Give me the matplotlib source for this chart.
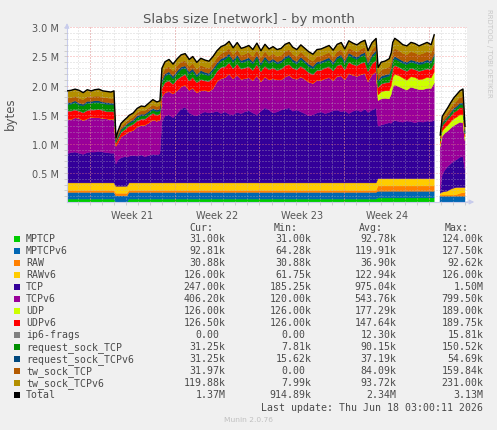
import numpy as np
import matplotlib
matplotlib.use("Agg")
import matplotlib.pyplot as plt
from matplotlib.patches import Rectangle
from matplotlib.transforms import blended_transform_factory

nan = float("nan")
W, H = 497, 431

# hours since the graph start (2026-05-16 03:00), graph spans 33 days
HOURS = [
    0, 8, 16, 24, 32, 40, 48, 55, 63, 71, 79, 87, 93,
    97, 101, 107, 115, 119, 123, 131, 139, 147, 154, 162, 170, 178, 184,
    188, 194, 202, 210, 218, 226, 234, 242, 249, 257,
    265, 273, 281, 289, 297, 305, 313, 321, 329, 337,
    345, 352, 360, 368, 376, 384, 392, 400, 408, 416,
    424, 432, 440, 447, 455, 463, 471, 479, 487, 495,
    503, 511, 519, 527, 535, 543, 550, 558, 566, 574,
    582, 590, 596, 604, 612,
    616, 622, 630, 638, 642, 645, 649, 657, 665, 673, 681, 689, 697, 705, 713, 721, 727,
    731, 735,
    739, 743, 748, 754, 760, 766, 772, 778, 784, 788,
]

# all values in millions of bytes (stacked, bottom first)
MPTCP = [
    0.05, 0.05, 0.05, 0.05, 0.05, 0.05, 0.05, 0.05, 0.05, 0.05, 0.05, 0.05, 0.05,
    0, 0, 0, 0, 0, 0.05, 0.05, 0.05, 0.05, 0.05, 0.05, 0.05, 0.05, 0.05,
    0.05, 0.05, 0.05, 0.05, 0.05, 0.05, 0.05, 0.05, 0.05, 0.05,
    0.05, 0.05, 0.05, 0.05, 0.05, 0.05, 0.05, 0.05, 0.05, 0.05,
    0.05, 0.05, 0.05, 0.05, 0.05, 0.05, 0.05, 0.05, 0.05, 0.05,
    0.05, 0.05, 0.05, 0.05, 0.05, 0.05, 0.05, 0.05, 0.05, 0.05,
    0.05, 0.05, 0.05, 0.05, 0.05, 0.05, 0.05, 0.05, 0.05, 0.05,
    0.05, 0.05, 0.05, 0.05, 0.05,
    0.07, 0.07, 0.07, 0.07, 0.07, 0.07, 0.07, 0.07, 0.07, 0.07, 0.07, 0.07, 0.07, 0.07, 0.07, 0.07, 0.07,
    nan, nan,
    0, 0, 0, 0, 0, 0, 0, 0, 0, 0,
]
MPTCPV6 = [
    0.115, 0.115, 0.115, 0.115, 0.115, 0.115, 0.115, 0.115, 0.115, 0.115, 0.115, 0.115, 0.115,
    0.105, 0.105, 0.105, 0.105, 0.105, 0.115, 0.115, 0.115, 0.115, 0.115, 0.115, 0.115, 0.115, 0.115,
    0.115, 0.115, 0.115, 0.115, 0.115, 0.115, 0.115, 0.115, 0.115, 0.115,
    0.115, 0.115, 0.115, 0.115, 0.115, 0.115, 0.115, 0.115, 0.115, 0.115,
    0.115, 0.115, 0.115, 0.115, 0.115, 0.115, 0.115, 0.115, 0.115, 0.115,
    0.115, 0.115, 0.115, 0.115, 0.115, 0.115, 0.115, 0.115, 0.115, 0.115,
    0.115, 0.115, 0.115, 0.115, 0.115, 0.115, 0.115, 0.115, 0.115, 0.115,
    0.115, 0.115, 0.115, 0.115, 0.115,
    0.115, 0.115, 0.115, 0.115, 0.115, 0.115, 0.115, 0.115, 0.115, 0.115, 0.115, 0.115, 0.115, 0.115, 0.115, 0.115, 0.115,
    nan, nan,
    0.10, 0.10, 0.10, 0.10, 0.10, 0.10, 0.10, 0.10, 0.10, 0.10,
]
RAW = [
    0.035, 0.035, 0.035, 0.035, 0.035, 0.035, 0.035, 0.035, 0.035, 0.035, 0.035, 0.035, 0.035,
    0.045, 0.045, 0.045, 0.045, 0.045, 0.035, 0.035, 0.035, 0.035, 0.035, 0.035, 0.035, 0.035, 0.035,
    0.035, 0.035, 0.035, 0.035, 0.035, 0.035, 0.035, 0.035, 0.035, 0.035,
    0.035, 0.035, 0.035, 0.035, 0.035, 0.035, 0.035, 0.035, 0.035, 0.035,
    0.035, 0.035, 0.035, 0.035, 0.035, 0.035, 0.035, 0.035, 0.035, 0.035,
    0.035, 0.035, 0.035, 0.035, 0.035, 0.035, 0.035, 0.035, 0.035, 0.035,
    0.035, 0.035, 0.035, 0.035, 0.035, 0.035, 0.035, 0.035, 0.035, 0.035,
    0.035, 0.035, 0.035, 0.035, 0.035,
    0.09, 0.09, 0.09, 0.09, 0.09, 0.09, 0.09, 0.09, 0.09, 0.09, 0.09, 0.09, 0.09, 0.09, 0.09, 0.09, 0.09,
    nan, nan,
    0.02, 0.02, 0.02, 0.02, 0.02, 0.02, 0.03, 0.05, 0.06, 0.06,
]
RAWV6 = [
    0.128, 0.128, 0.128, 0.128, 0.128, 0.128, 0.128, 0.128, 0.128, 0.128, 0.128, 0.128, 0.128,
    0.12, 0.12, 0.12, 0.12, 0.12, 0.128, 0.128, 0.128, 0.128, 0.128, 0.128, 0.128, 0.128, 0.128,
    0.128, 0.128, 0.128, 0.128, 0.128, 0.128, 0.128, 0.128, 0.128, 0.128,
    0.128, 0.128, 0.128, 0.128, 0.128, 0.128, 0.128, 0.128, 0.128, 0.128,
    0.128, 0.128, 0.128, 0.128, 0.128, 0.128, 0.128, 0.128, 0.128, 0.128,
    0.128, 0.128, 0.128, 0.128, 0.128, 0.128, 0.128, 0.128, 0.128, 0.128,
    0.128, 0.128, 0.128, 0.128, 0.128, 0.128, 0.128, 0.128, 0.128, 0.128,
    0.128, 0.128, 0.128, 0.128, 0.128,
    0.126, 0.126, 0.126, 0.126, 0.126, 0.126, 0.126, 0.126, 0.126, 0.126, 0.126, 0.126, 0.126, 0.126, 0.126, 0.126, 0.126,
    nan, nan,
    0.03, 0.05, 0.06, 0.07, 0.10, 0.12, 0.12, 0.10, 0.09, 0.09,
]
TCP = [
    0.50, 0.52, 0.53, 0.51, 0.49, 0.52, 0.53, 0.53, 0.54, 0.53, 0.52, 0.51, 0.51,
    0.38, 0.45, 0.49, 0.51, 0.50, 0.46, 0.47, 0.46, 0.48, 0.45, 0.47, 0.49, 0.48, 0.50,
    1.05, 1.15, 1.17, 1.12, 1.19, 1.27, 1.30, 1.20, 1.17, 1.15,
    1.19, 1.22, 1.20, 1.21, 1.23, 1.19, 1.22, 1.18, 1.17, 1.21,
    1.19, 1.22, 1.24, 1.20, 1.17, 1.23, 1.29, 1.25, 1.20, 1.22,
    1.25, 1.27, 1.29, 1.23, 1.25, 1.22, 1.19, 1.15, 1.17, 1.20,
    1.22, 1.19, 1.21, 1.24, 1.25, 1.22, 1.24, 1.19, 1.23, 1.25,
    1.22, 1.27, 1.21, 1.25, 1.29,
    0.90, 0.92, 0.94, 0.96, 0.95, 0.98, 1.00, 0.98, 0.97, 0.99, 0.98, 0.96, 0.98, 0.97, 0.99, 0.98, 1.00,
    nan, nan,
    0.05, 0.30, 0.37, 0.42, 0.44, 0.46, 0.48, 0.52, 0.53, 0.30,
]
TCPV6 = [
    0.60, 0.57, 0.59, 0.60, 0.58, 0.58, 0.60, 0.59, 0.58, 0.58, 0.58, 0.58, 0.59,
    0.31, 0.30, 0.36, 0.38, 0.41, 0.42, 0.43, 0.50, 0.51, 0.54, 0.56, 0.59, 0.58, 0.58,
    0.43, 0.40, 0.40, 0.41, 0.39, 0.38, 0.38, 0.39, 0.46, 0.40,
    0.39, 0.37, 0.37, 0.41, 0.51, 0.60, 0.59, 0.69, 0.62, 0.64,
    0.59, 0.57, 0.57, 0.56, 0.67, 0.51, 0.53, 0.52, 0.59, 0.55,
    0.52, 0.55, 0.56, 0.57, 0.53, 0.60, 0.59, 0.58, 0.54, 0.56,
    0.54, 0.60, 0.60, 0.52, 0.58, 0.62, 0.53, 0.69, 0.62, 0.58,
    0.64, 0.61, 0.53, 0.61, 0.62,
    0.44, 0.45, 0.44, 0.41, 0.50, 0.59, 0.61, 0.60, 0.58, 0.53, 0.59, 0.59, 0.55, 0.56, 0.56, 0.57, 0.64,
    nan, nan,
    0.75, 0.66, 0.63, 0.61, 0.61, 0.61, 0.61, 0.60, 0.58, 0.50,
]
UDP = [
    0, 0, 0, 0, 0, 0, 0, 0, 0, 0, 0, 0, 0,
    0, 0, 0, 0, 0, 0, 0, 0, 0, 0, 0, 0, 0, 0,
    0, 0, 0, 0, 0, 0, 0, 0, 0, 0,
    0, 0, 0, 0, 0, 0, 0, 0, 0, 0,
    0, 0, 0, 0, 0, 0, 0, 0, 0, 0,
    0, 0, 0, 0, 0, 0, 0, 0, 0, 0,
    0, 0, 0, 0, 0, 0, 0, 0, 0, 0,
    0, 0, 0, 0, 0,
    0.10, 0.12, 0.13, 0.14, 0.15, 0.17, 0.18, 0.19, 0.18, 0.17, 0.18, 0.19, 0.17, 0.18, 0.19, 0.18, 0.19,
    nan, nan,
    0.05, 0.09, 0.09, 0.10, 0.11, 0.12, 0.12, 0.13, 0.14, 0.07,
]
UDPV6 = [
    0.13, 0.14, 0.13, 0.12, 0.13, 0.14, 0.12, 0.13, 0.14, 0.13, 0.12, 0.13, 0.12,
    0.05, 0.06, 0.07, 0.08, 0.09, 0.09, 0.10, 0.10, 0.10, 0.10, 0.11, 0.11, 0.10, 0.10,
    0.15, 0.17, 0.18, 0.16, 0.19, 0.17, 0.18, 0.16, 0.18, 0.17,
    0.19, 0.16, 0.17, 0.18, 0.17, 0.19, 0.18, 0.19, 0.17, 0.19,
    0.17, 0.18, 0.18, 0.17, 0.19, 0.17, 0.18, 0.17, 0.18, 0.16,
    0.18, 0.19, 0.18, 0.17, 0.16, 0.18, 0.17, 0.16, 0.15, 0.17,
    0.17, 0.18, 0.18, 0.16, 0.18, 0.19, 0.17, 0.19, 0.18, 0.18,
    0.19, 0.19, 0.17, 0.18, 0.19,
    0.12, 0.13, 0.13, 0.14, 0.14, 0.15, 0.15, 0.14, 0.14, 0.15, 0.14, 0.13, 0.14, 0.15, 0.14, 0.14, 0.15,
    nan, nan,
    0.05, 0.09, 0.09, 0.10, 0.10, 0.11, 0.11, 0.12, 0.12, 0.05,
]
IP6_FRAGS = [
    0.01, 0.01, 0.01, 0.01, 0.01, 0.01, 0.01, 0.01, 0.01, 0.01, 0.01, 0.01, 0.01,
    0.01, 0.01, 0.01, 0.01, 0.01, 0.01, 0.01, 0.01, 0.01, 0.01, 0.01, 0.01, 0.01, 0.01,
    0.01, 0.01, 0.01, 0.01, 0.01, 0.01, 0.01, 0.01, 0.01, 0.01,
    0.01, 0.01, 0.01, 0.01, 0.01, 0.01, 0.01, 0.01, 0.01, 0.01,
    0.01, 0.01, 0.01, 0.01, 0.01, 0.01, 0.01, 0.01, 0.01, 0.01,
    0.01, 0.01, 0.01, 0.01, 0.01, 0.01, 0.01, 0.01, 0.01, 0.01,
    0.01, 0.01, 0.01, 0.01, 0.01, 0.01, 0.01, 0.01, 0.01, 0.01,
    0.01, 0.01, 0.01, 0.01, 0.01,
    0.01, 0.01, 0.01, 0.01, 0.01, 0.01, 0.01, 0.01, 0.01, 0.01, 0.01, 0.01, 0.01, 0.01, 0.01, 0.01, 0.01,
    nan, nan,
    0, 0, 0, 0, 0, 0, 0, 0, 0, 0,
]
REQ_SOCK_TCP = [
    0.11, 0.11, 0.12, 0.10, 0.11, 0.12, 0.11, 0.12, 0.11, 0.11, 0.12, 0.11, 0.11,
    0.03, 0.03, 0.03, 0.04, 0.04, 0.04, 0.04, 0.05, 0.05, 0.05, 0.05, 0.05, 0.05, 0.05,
    0.08, 0.10, 0.11, 0.09, 0.10, 0.12, 0.10, 0.11, 0.10, 0.09,
    0.11, 0.10, 0.09, 0.11, 0.10, 0.10, 0.12, 0.11, 0.10, 0.11,
    0.10, 0.10, 0.11, 0.10, 0.11, 0.10, 0.12, 0.10, 0.11, 0.10,
    0.10, 0.11, 0.12, 0.10, 0.09, 0.11, 0.10, 0.10, 0.09, 0.10,
    0.11, 0.10, 0.11, 0.10, 0.11, 0.12, 0.10, 0.11, 0.11, 0.10,
    0.11, 0.12, 0.10, 0.11, 0.12,
    0.08, 0.09, 0.09, 0.10, 0.10, 0.11, 0.11, 0.10, 0.10, 0.11, 0.10, 0.10, 0.11, 0.10, 0.11, 0.10, 0.11,
    nan, nan,
    0.02, 0.03, 0.03, 0.03, 0.04, 0.04, 0.05, 0.05, 0.05, 0.03,
]
REQ_SOCK_TCPV6 = [
    0.03, 0.03, 0.03, 0.03, 0.03, 0.03, 0.03, 0.03, 0.03, 0.03, 0.03, 0.03, 0.03,
    0.01, 0.02, 0.02, 0.02, 0.02, 0.02, 0.03, 0.03, 0.03, 0.03, 0.03, 0.03, 0.03, 0.03,
    0.04, 0.04, 0.04, 0.04, 0.04, 0.04, 0.04, 0.04, 0.04, 0.04,
    0.04, 0.04, 0.04, 0.04, 0.04, 0.04, 0.04, 0.04, 0.04, 0.04,
    0.04, 0.04, 0.04, 0.04, 0.04, 0.04, 0.04, 0.04, 0.04, 0.04,
    0.04, 0.04, 0.04, 0.04, 0.04, 0.04, 0.04, 0.04, 0.04, 0.04,
    0.04, 0.04, 0.04, 0.04, 0.04, 0.04, 0.04, 0.04, 0.04, 0.04,
    0.04, 0.04, 0.04, 0.04, 0.04,
    0.04, 0.04, 0.04, 0.04, 0.04, 0.04, 0.04, 0.04, 0.04, 0.04, 0.04, 0.04, 0.04, 0.04, 0.04, 0.04, 0.04,
    nan, nan,
    0.01, 0.02, 0.02, 0.02, 0.02, 0.03, 0.03, 0.03, 0.03, 0.02,
]
TW_SOCK_TCP = [
    0.08, 0.08, 0.08, 0.08, 0.08, 0.08, 0.08, 0.08, 0.08, 0.08, 0.08, 0.08, 0.08,
    0.02, 0.04, 0.05, 0.05, 0.05, 0.05, 0.05, 0.06, 0.06, 0.06, 0.06, 0.06, 0.06, 0.06,
    0.09, 0.09, 0.09, 0.09, 0.09, 0.09, 0.09, 0.09, 0.09, 0.09,
    0.09, 0.09, 0.09, 0.09, 0.09, 0.09, 0.09, 0.09, 0.09, 0.09,
    0.09, 0.09, 0.09, 0.09, 0.09, 0.09, 0.09, 0.09, 0.09, 0.09,
    0.09, 0.09, 0.09, 0.09, 0.09, 0.09, 0.09, 0.09, 0.09, 0.09,
    0.09, 0.09, 0.09, 0.09, 0.09, 0.09, 0.09, 0.09, 0.09, 0.09,
    0.09, 0.09, 0.09, 0.09, 0.09,
    0.10, 0.11, 0.11, 0.12, 0.12, 0.13, 0.14, 0.14, 0.13, 0.13, 0.14, 0.14, 0.13, 0.14, 0.14, 0.13, 0.15,
    nan, nan,
    0.03, 0.05, 0.06, 0.07, 0.08, 0.08, 0.09, 0.10, 0.11, 0.04,
]
TW_SOCK_TCPV6 = [
    0.12, 0.13, 0.12, 0.14, 0.12, 0.12, 0.10, 0.11, 0.12, 0.11, 0.11, 0.11, 0.13,
    0.02, 0.04, 0.05, 0.06, 0.06, 0.07, 0.07, 0.07, 0.08, 0.07, 0.08, 0.09, 0.08, 0.08,
    0.12, 0.12, 0.12, 0.12, 0.12, 0.12, 0.12, 0.12, 0.12, 0.12,
    0.12, 0.12, 0.12, 0.12, 0.12, 0.12, 0.12, 0.12, 0.12, 0.12,
    0.12, 0.12, 0.12, 0.12, 0.12, 0.12, 0.12, 0.12, 0.12, 0.12,
    0.12, 0.12, 0.12, 0.12, 0.12, 0.12, 0.12, 0.12, 0.12, 0.12,
    0.12, 0.12, 0.12, 0.12, 0.12, 0.12, 0.12, 0.12, 0.12, 0.12,
    0.12, 0.12, 0.12, 0.12, 0.12,
    0.12, 0.13, 0.13, 0.14, 0.15, 0.16, 0.17, 0.16, 0.15, 0.15, 0.16, 0.16, 0.15, 0.16, 0.16, 0.15, 0.18,
    nan, nan,
    0.04, 0.06, 0.07, 0.08, 0.09, 0.10, 0.11, 0.11, 0.13, 0.04,
]

NAMES = ["MPTCP", "MPTCPv6", "RAW", "RAWv6", "TCP", "TCPv6", "UDP", "UDPv6",
         "ip6-frags", "request_sock_TCP", "request_sock_TCPv6", "tw_sock_TCP",
         "tw_sock_TCPv6", "Total"]
COLORS = ["#00CC00", "#0066B3", "#FF8000", "#FFCC00", "#330099", "#990099",
          "#CCFF00", "#FF0000", "#808080", "#008F00", "#00487D", "#B35A00",
          "#B38F00", "#000000"]
CUR = ["31.00k", "92.81k", "30.88k", "126.00k", "247.00k", "406.20k", "126.00k",
       "126.50k", "0.00", "31.25k", "31.25k", "31.97k", "119.88k", "1.37M"]
MIN = ["31.00k", "64.28k", "30.88k", "61.75k", "185.25k", "120.00k", "126.00k",
       "126.00k", "0.00", "7.81k", "15.62k", "0.00", "7.99k", "914.89k"]
AVG = ["92.78k", "119.91k", "36.90k", "122.94k", "975.04k", "543.76k", "177.29k",
       "147.64k", "12.30k", "90.15k", "37.19k", "84.09k", "93.72k", "2.34M"]
MAX = ["124.00k", "127.50k", "92.62k", "126.00k", "1.50M", "799.50k", "189.00k",
       "189.75k", "15.81k", "150.52k", "54.69k", "159.84k", "231.00k", "3.13M"]

WEEK_STARTS = [45, 213, 381, 549, 717]          # Mondays 00:00
WEEK_LABELS = ["Week 21", "Week 22", "Week 23", "Week 24"]
SPAN_HOURS = 792


def fig_xy(px, py):
    return px / W, 1 - py / H


fig = plt.figure(figsize=(W / 100, H / 100), dpi=100, facecolor="#F0F0F0")
ax = fig.add_axes([67 / W, 1 - 203 / H, 400 / W, 174.7 / H])
ax.set_facecolor("white")

x = np.array(HOURS, dtype=float)
stack = [MPTCP, MPTCPV6, RAW, RAWV6, TCP, TCPV6, UDP, UDPV6, IP6_FRAGS,
         REQ_SOCK_TCP, REQ_SOCK_TCPV6, TW_SOCK_TCP, TW_SOCK_TCPV6]
base = np.zeros(len(x))
for vals, color in zip(stack, COLORS):
    top = base + np.array(vals, dtype=float)
    ax.fill_between(x, base, top, facecolor=color, edgecolor=color,
                    linewidth=0.3, zorder=1)
    base = top
ax.plot(x, base, color="black", lw=1.0, zorder=3)

ax.set_xlim(0, SPAN_HOURS)
ax.set_ylim(0, 3.0)

# y axis
ax.set_yticks([0.5, 1.0, 1.5, 2.0, 2.5, 3.0])
ax.set_yticklabels(["0.5 M", "1.0 M", "1.5 M", "2.0 M", "2.5 M", "3.0 M"])
ax.set_yticks(np.arange(0.1, 3.0, 0.1), minor=True)
# x axis: labels mid-week, day grid minor
ax.set_xticks([w + 84 for w in WEEK_STARTS[:4]])
ax.set_xticklabels(WEEK_LABELS)
ax.set_xticks(np.arange(21, SPAN_HOURS, 24), minor=True)

ax.tick_params(axis="both", which="both", colors="#C8C8C8", labelcolor="#555555",
               labelsize=7, length=2, width=0.6, pad=3.5)
ax.tick_params(axis="x", which="major", length=0, pad=5.5)

ax.set_axisbelow(False)
dots = (0, (1, 2))
ax.grid(True, which="minor", color="#BBBBBB", alpha=0.6, lw=0.72, ls=dots)
ax.grid(True, which="major", axis="y", color="#F08080", alpha=0.7, lw=0.72, ls=dots)
for w in WEEK_STARTS:
    ax.axvline(w, color="#F08080", alpha=0.7, lw=0.72, ls=dots, zorder=2.6)

for side in ["top", "right"]:
    ax.spines[side].set_visible(False)
for side in ["left", "bottom"]:
    ax.spines[side].set_color("#C8CCEC")
    ax.spines[side].set_linewidth(0.8)
arrow = dict(arrowstyle="-|>", color="#C8CCEC", lw=0.8, mutation_scale=7)
ax.annotate("", xy=(0, 1.04), xytext=(0, 0.99), xycoords="axes fraction",
            arrowprops=arrow, annotation_clip=False)
ax.annotate("", xy=(1.025, 0), xytext=(0.99, 0), xycoords="axes fraction",
            arrowprops=arrow, annotation_clip=False)

fig.text(*fig_xy(248.5, 19), "Slabs size [network] - by month", ha="center",
         va="center", fontsize=9.5, color="#555555")
fig.text(*fig_xy(10, 114), "bytes", rotation=90, ha="center", va="center",
         fontsize=8.5, color="#555555")
fig.text(*fig_xy(488.5, 53), "RRDTOOL / TOBI OETIKER", rotation=270,
         ha="center", va="center", fontsize=5, color="#C8C8C8")

# legend table
mono = dict(family="DejaVu Sans Mono", fontsize=7.1, color="#4A4A4A", va="center")
cw = 5.95
fig.text(*fig_xy(213, 228), "Cur:", ha="right", **mono)
fig.text(*fig_xy(298, 228), "Min:", ha="right", **mono)
fig.text(*fig_xy(383, 228), "Avg:", ha="right", **mono)
fig.text(*fig_xy(468.5, 228), "Max:", ha="right", **mono)
for i, name in enumerate(NAMES):
    py = 239.5 + 12 * i
    fig.patches.append(Rectangle(fig_xy(14, py + 3), 6 / W, 6 / H,
                                 transform=fig.transFigure, facecolor=COLORS[i],
                                 edgecolor="none"))
    fig.text(*fig_xy(26, py), name, ha="left", **mono)
    for col, right in zip([CUR, MIN, AVG, MAX], [225.7, 311.7, 396.7, 483.3]):
        s = col[i]
        shift = 0 if s[-1] in "kM" else cw
        fig.text(*fig_xy(right - shift, py), s, ha="right", **mono)

fig.text(*fig_xy(483, 407.7), "Last update: Thu Jun 18 03:00:11 2026", ha="right", **mono)
fig.text(*fig_xy(248, 420), "Munin 2.0.76", ha="center", va="center",
         fontsize=5.4, color="#C0C0C0")

fig.savefig("out.png", dpi=100, facecolor=fig.get_facecolor())
